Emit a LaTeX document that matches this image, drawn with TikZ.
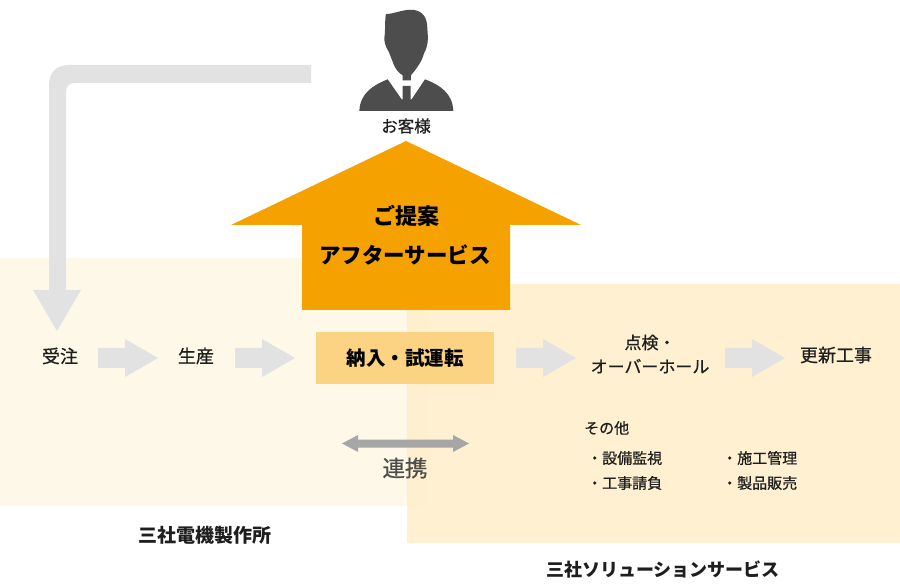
\documentclass[tikz,border=0pt]{standalone}
\usepackage{fontspec}
\setmainfont{Noto Sans CJK JP}
\newfontfamily\medfont[FakeBold=0.6]{Noto Sans CJK JP}
\usetikzlibrary{calc}
\definecolor{bgL}{HTML}{FEF8E9}
\definecolor{bgR}{HTML}{FEF0CE}
\definecolor{orangeM}{HTML}{F5A200}
\definecolor{orangeL}{HTML}{FBD27E}
\definecolor{flowG}{HTML}{E2E2E2}
\definecolor{linkG}{HTML}{A6A6A6}
\definecolor{manG}{HTML}{4D4D4D}
\definecolor{txt}{HTML}{1E1E1E}
\tikzset{
  lab/.style={inner sep=0pt,text=txt,font=\medfont\fontsize{18}{24}\selectfont,align=center},
  small/.style={inner sep=0pt,text=txt,font=\medfont\fontsize{15}{18}\selectfont,anchor=west},
  head/.style={inner sep=0pt,text=txt,font=\bfseries},
  big/.style={inner sep=0pt,text=black,font=\fontsize{21.5}{26}\selectfont\bfseries},
  flow/.style={fill=flowG,draw=none},
}
\newcommand{\flowarrow}[1]{%
  \fill[flow] ($(#1)+(0,-10)$) -- ++(27,0) -- ++(0,-9) -- ($(#1)+(60,0)$) -- ($(#1)+(27,19)$) -- ++(0,-9) -- ($(#1)+(0,10)$) -- cycle;}
\begin{document}
\begin{tikzpicture}[x=1pt,y=-1pt]
\useasboundingbox (0,0) rectangle (900,585);
\fill[white] (0,0) rectangle (900,585);
% backgrounds
\fill[bgL] (0,258) rectangle (428,506);
\fill[bgR,fill opacity=.95] (407,284) rectangle (900,543);
% big grey arrow
\fill[flow] (311,65) -- (70,65) .. controls (56,65) and (49,72) .. (49,86) -- (49,290) -- (33,290) -- (57,331) -- (81,290) -- (66,290) -- (66,92) .. controls (66,86) and (69,83) .. (75,83) -- (311,83) -- cycle;
% orange arrow
\fill[orangeM] (406,141) -- (581,225) -- (510,225) -- (510,310) -- (302,310) -- (302,225) -- (231,225) -- cycle;
\node[big,font=\fontsize{22}{26}\selectfont\bfseries] (prop) at (406,216) {ご提案};
\node[big] (after) at (405,255) {アフターサービス};
% person
\begin{scope}[shift={(340,0)},x=0.3333pt,y=-0.3333pt]
\fill[manG] (138,42) .. controls (165,42) and (190,26) .. (222,30) .. controls (250,34) and (262,55) .. (262,85) -- (264,115) .. controls (263,135) and (258,150) .. (252,160) .. controls (246,185) and (228,208) .. (213,226) -- (213,241) -- (188,241) -- (188,226) .. controls (178,220) and (165,208) .. (158,185) -- (146,155) .. controls (136,140) and (130,120) .. (134,105) .. controls (136,95) and (134,60) .. (138,42) -- cycle;
\fill[manG] (143,238) -- (185,298) -- (188,298) -- (188,258) -- (212,258) -- (212,298) -- (215,298) -- (255,238) .. controls (300,255) and (338,280) .. (340,333) -- (58,333) .. controls (60,280) and (100,255) .. (143,238) -- cycle;
\end{scope}
\node[inner sep=0pt,text=txt,font=\medfont\fontsize{16.5}{18}\selectfont] (cust) at (406,126) {お客様};
% process
\node[lab] (jutyu) at (60,356) {受注};
\node[lab] (seisan) at (196,356) {生産};
\node[fill=orangeL,fill opacity=.95,text opacity=1,minimum width=178pt,minimum height=52pt,inner sep=0pt,text=black,font=\fontsize{19.5}{24}\selectfont\bfseries] (nonyu) at (405,358) {納入・試運転};
\node[lab,font=\medfont\fontsize{17}{24}\selectfont] (tenken) at (650,354) {点検・\\オーバーホール};
\node[lab] (koshin) at (836,355) {更新工事};
\coordinate (a1) at (98,358);
\coordinate (a2) at (235,358);
\coordinate (a3) at (516,358);
\coordinate (a4) at (725,358);
\flowarrow{a1}\flowarrow{a2}\flowarrow{a3}\flowarrow{a4}
% link
\fill[linkG] (342,443.5) -- (358,435) -- (358,439.5) -- (453,439.5) -- (453,435) -- (469,443.5) -- (453,452) -- (453,447.5) -- (358,447.5) -- (358,452) -- cycle;
\node[inner sep=0pt,text=black!70,font=\medfont\fontsize{22.5}{26}\selectfont] (renkei) at (405,468) {連携};
% others
\node[small] (sonota) at (584,428) {その他};
\node[small] (o1) at (587,458) {・設備監視};
\node[small] (o2) at (587,483) {・工事請負};
\node[small] (o3) at (722,458) {・施工管理};
\node[small] (o4) at (722,483) {・製品販売};
% company labels
\node[head,font=\fontsize{19}{22}\selectfont\bfseries] (co1) at (205,535) {三社電機製作所};
\node[head,font=\fontsize{18}{22}\selectfont\bfseries] (co2) at (663,570) {三社ソリューションサービス};
\end{tikzpicture}
\end{document}
